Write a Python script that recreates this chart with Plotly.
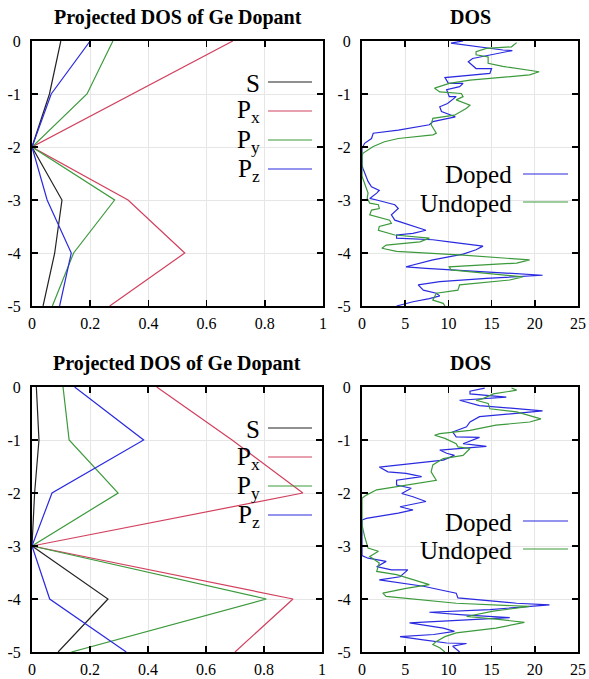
import plotly.graph_objects as go

# ---------------- data ----------------
energy_pdos = [0, -1, -2, -3, -4, -5]

# top panel (projected DOS)
top_S  = [0.099, 0.060, 0.0, 0.103, 0.078, 0.038]
top_Px = [0.690, 0.345, 0.0, 0.330, 0.525, 0.267]
top_Py = [0.278, 0.189, 0.0, 0.284, 0.143, 0.070]
top_Pz = [0.200, 0.066, 0.0, 0.052, 0.135, 0.095]

# bottom panel (projected DOS)
bot_S  = [0.015, 0.024, 0.009, 0.0, 0.262, 0.090]
bot_Px = [0.430, 0.690, 0.934, 0.0, 0.900, 0.700]
bot_Py = [0.107, 0.128, 0.297, 0.0, 0.808, 0.136]
bot_Pz = [0.147, 0.385, 0.069, 0.0, 0.061, 0.325]

# top DOS, doped
top_doped_x = [11.7, 10.3, 16.3, 17.4, 12.8, 12.3, 13.2, 15.0, 14.8, 9.6, 10.0, 11.7, 11.3, 9.8, 10.1,
               10.9, 9.9, 9.0, 9.2, 10.5, 10.8, 8.2, 7.8, 4.2, 1.3, 1.1, 0.3, 0.0, 0.0, 0.1, 0.7, 1.1,
               2.0, 1.7, 0.9, 1.7, 3.8, 4.2, 3.4, 3.8, 7.4, 5.9, 4.0, 4.0, 8.2, 10.1, 14.0, 13.2, 11.7,
               8.2, 5.1, 7.4, 13.6, 20.9, 14.4, 9.0, 6.5, 7.1, 8.6, 9.0, 7.8, 5.9, 4.0]
top_doped_e = [0.0, -0.04, -0.17, -0.18, -0.33, -0.39, -0.52, -0.52, -0.61, -0.69, -0.80, -0.80, -0.86,
               -0.92, -1.05, -1.05, -1.18, -1.24, -1.33, -1.40, -1.43, -1.52, -1.58, -1.68, -1.74, -1.84,
               -1.93, -2.03, -2.35, -2.40, -2.65, -2.75, -2.82, -2.87, -2.97, -3.00, -3.09, -3.16, -3.28,
               -3.38, -3.57, -3.63, -3.66, -3.72, -3.75, -3.79, -3.87, -3.94, -4.02, -4.13, -4.26, -4.29,
               -4.35, -4.42, -4.48, -4.54, -4.60, -4.70, -4.76, -4.81, -4.86, -4.92, -5.0]

# top DOS, undoped
top_undoped_x = [17.9, 17.3, 14.4, 13.2, 13.2, 14.6, 14.6, 16.3, 20.5, 19.4, 12.5, 10.1, 8.4, 9.0, 11.5,
                 11.7, 10.9, 12.5, 12.1, 10.7, 8.2, 8.0, 8.6, 8.2, 4.2, 2.6, 1.3, 0.1, 0.0, 0.0, 0.7,
                 0.6, 0.9, 1.9, 2.0, 1.1, 0.9, 3.2, 3.4, 2.0, 1.9, 3.8, 7.8, 6.7, 2.8, 2.3, 4.0, 11.7,
                 19.4, 17.9, 10.1, 10.3, 18.6, 17.1, 11.3, 11.1, 8.6, 8.2, 9.4, 9.6]
top_undoped_e = [-0.03, -0.11, -0.14, -0.20, -0.26, -0.30, -0.42, -0.48, -0.58, -0.64, -0.74, -0.80,
                 -0.89, -0.96, -0.99, -1.05, -1.11, -1.21, -1.27, -1.40, -1.46, -1.58, -1.74, -1.77,
                 -1.84, -1.90, -1.99, -2.12, -2.18, -2.55, -2.87, -2.97, -3.06, -3.09, -3.16, -3.19,
                 -3.28, -3.38, -3.44, -3.50, -3.57, -3.66, -3.72, -3.79, -3.85, -3.91, -3.97, -4.04,
                 -4.13, -4.19, -4.26, -4.32, -4.45, -4.51, -4.60, -4.70, -4.76, -4.89, -4.95, -5.0]

# bottom DOS, doped
bot_doped_x = [14.2, 12.5, 12.5, 15.2, 16.7, 11.3, 12.8, 13.6, 20.9, 17.9, 13.6, 12.5, 12.1, 10.5, 10.9,
               13.6, 11.7, 14.4, 10.9, 9.0, 9.8, 10.7, 9.4, 5.9, 2.0, 3.0, 5.1, 6.9, 4.0, 4.0, 5.7, 4.6,
               5.9, 7.4, 6.1, 4.4, 5.9, 4.2, 0.5, 0.0, 0.0, 0.7, 2.8, 1.7, 3.4, 5.3, 4.4, 2.0, 7.1, 10.9,
               11.1, 17.9, 21.7, 14.8, 7.8, 11.7, 17.1, 12.5, 5.5, 9.4, 10.7, 8.3, 4.4, 7.1, 9.8, 12.1,
               10.5, 11.3]
bot_doped_e = [-0.02, -0.08, -0.13, -0.16, -0.19, -0.25, -0.31, -0.35, -0.45, -0.50, -0.56, -0.66, -0.75,
               -0.85, -0.94, -0.95, -1.07, -1.12, -1.16, -1.19, -1.25, -1.29, -1.38, -1.44, -1.51, -1.60,
               -1.63, -1.69, -1.76, -1.85, -1.91, -2.01, -2.07, -2.16, -2.20, -2.26, -2.32, -2.38, -2.48,
               -2.51, -3.18, -3.23, -3.29, -3.39, -3.45, -3.45, -3.58, -3.64, -3.76, -3.89, -3.98, -4.08,
               -4.11, -4.20, -4.25, -4.30, -4.35, -4.39, -4.45, -4.55, -4.61, -4.67, -4.71, -4.77, -4.83,
               -4.84, -4.89, -5.0]

# bottom DOS, undoped
bot_undoped_x = [17.3, 17.9, 15.2, 14.0, 13.2, 14.6, 14.8, 17.9, 20.7, 19.4, 15.5, 12.5, 9.0, 8.4, 9.6,
                 10.9, 11.1, 12.5, 11.7, 9.4, 8.2, 8.0, 8.6, 6.3, 3.6, 1.7, 0.5, 0.0, 0.0, 0.3, 0.7, 1.9,
                 0.9, 2.0, 1.7, 4.0, 7.8, 5.1, 2.4, 2.8, 10.9, 19.4, 15.2, 12.1, 15.5, 18.8, 15.5, 10.9,
                 9.6, 8.6, 8.2, 9.0, 9.6]
bot_undoped_e = [-0.02, -0.06, -0.13, -0.22, -0.25, -0.31, -0.41, -0.47, -0.60, -0.66, -0.72, -0.82,
                 -0.88, -0.91, -0.97, -1.07, -1.13, -1.16, -1.29, -1.35, -1.47, -1.60, -1.76, -1.82,
                 -1.88, -1.94, -2.04, -2.10, -2.60, -2.82, -3.04, -3.10, -3.20, -3.32, -3.48, -3.54,
                 -3.73, -3.80, -3.89, -3.95, -4.08, -4.14, -4.23, -4.33, -4.38, -4.44, -4.55, -4.64,
                 -4.71, -4.80, -4.86, -4.92, -5.0]

pdos_names = ["S", "P<sub>x</sub>", "P<sub>y</sub>", "P<sub>z</sub>"]
dos_names = ["Doped", "Undoped"]
panel_titles = ["Projected DOS of Ge Dopant", "DOS", "Projected DOS of Ge Dopant", "DOS"]

pdos_xticks = [0, 0.2, 0.4, 0.6, 0.8, 1]
pdos_xtext = ["0", "0.2", "0.4", "0.6", "0.8", "1"]
dos_xticks = [0, 5, 10, 15, 20, 25]
dos_xtext = ["0", "5", "10", "15", "20", "25"]
yticks = [0, -1, -2, -3, -4, -5]
ytext = ["0", "-1", "-2", "-3", "-4", "-5"]

# ---------------- styling ----------------
W, H = 589, 679
pdos_colors = ["#222222", "#d2405e", "#3c9a3c", "#2a2ae0"]
dos_colors = ["#2a2ae0", "#3c9a3c"]
FONT = "Liberation Serif, Times New Roman, serif"

# panel pixel boxes: (left, right, top, bottom)
boxes = {
    1: (32, 323, 41, 306),
    2: (362, 578, 41, 306),
    3: (32, 322, 387, 652),
    4: (362, 578, 387, 652),
}

def px(x):
    return x / W

def py(y):
    return 1 - y / H

fig = go.Figure()

def add_line(i, x, y, color):
    xa = "x" if i == 1 else f"x{i}"
    ya = "y" if i == 1 else f"y{i}"
    fig.add_trace(go.Scatter(x=x, y=y, mode="lines", xaxis=xa, yaxis=ya,
                             line=dict(color=color, width=1.2), showlegend=False,
                             hoverinfo="skip"))

for series, c in zip([top_S, top_Px, top_Py, top_Pz], pdos_colors):
    add_line(1, series, energy_pdos, c)
add_line(2, top_doped_x, top_doped_e, dos_colors[0])
add_line(2, top_undoped_x, top_undoped_e, dos_colors[1])
for series, c in zip([bot_S, bot_Px, bot_Py, bot_Pz], pdos_colors):
    add_line(3, series, energy_pdos, c)
add_line(4, bot_doped_x, bot_doped_e, dos_colors[0])
add_line(4, bot_undoped_x, bot_undoped_e, dos_colors[1])

axis_common = dict(showline=True, linecolor="black", linewidth=2, mirror="ticks",
                   ticks="inside", ticklen=6, tickwidth=1.5, tickcolor="black",
                   showgrid=True, gridcolor="#e6e6e6", gridwidth=1, zeroline=False,
                   automargin=False,
                   tickfont=dict(family=FONT, size=16, color="black"))

layout = dict(width=W, height=H, margin=dict(l=0, r=0, t=0, b=0, autoexpand=False),
              paper_bgcolor="white", plot_bgcolor="white", showlegend=False)

for i, (l, r, t, b) in boxes.items():
    xk = "xaxis" if i == 1 else f"xaxis{i}"
    yk = "yaxis" if i == 1 else f"yaxis{i}"
    ya = "y" if i == 1 else f"y{i}"
    xa = "x" if i == 1 else f"x{i}"
    is_pdos = i in (1, 3)
    layout[xk] = dict(axis_common, domain=[px(l), px(r)], anchor=ya,
                      range=[0, 1] if is_pdos else [0, 25],
                      tickvals=pdos_xticks if is_pdos else dos_xticks,
                      ticktext=pdos_xtext if is_pdos else dos_xtext,
                      ticklabelstandoff=2)
    layout[yk] = dict(axis_common, domain=[py(b), py(t)], anchor=xa,
                      range=[-5, 0], tickvals=yticks, ticktext=ytext,
                      ticklabelstandoff=6)

fig.update_layout(**layout)

annotations = []
shapes = []
for i, (l, r, t, b) in boxes.items():
    annotations.append(dict(text=f"<b>{panel_titles[i-1]}</b>", x=px((l + r) / 2), y=py(t - 24),
                            xref="paper", yref="paper", showarrow=False,
                            xanchor="center", yanchor="middle",
                            font=dict(family=FONT, size=20, color="black")))

def add_legend(names, colors, ys, text_right, line_l, line_r, size):
    for name, c, yy in zip(names, colors, ys):
        annotations.append(dict(text=name, x=px(text_right), y=py(yy + 1), xref="paper", yref="paper",
                                showarrow=False, xanchor="right", yanchor="middle",
                                font=dict(family=FONT, size=size, color="black")))
        shapes.append(dict(type="line", xref="paper", yref="paper",
                           x0=px(line_l), x1=px(line_r), y0=py(yy), y1=py(yy),
                           line=dict(color=c, width=1.2)))

add_legend(pdos_names, pdos_colors, [82, 111, 140, 169], 262, 268, 312, 25)
add_legend(dos_names, dos_colors, [174, 202], 514, 523, 568, 25)
add_legend(pdos_names, pdos_colors, [428, 457, 486, 515], 262, 268, 312, 25)
add_legend(dos_names, dos_colors, [521, 549], 514, 523, 568, 25)

fig.update_layout(annotations=annotations, shapes=shapes)
fig.write_html("out.html",
               config={"displayModeBar": False, "staticPlot": True},
               post_script="document.body.style.margin='0';document.body.style.padding='0';"
                           "document.documentElement.style.overflow='hidden';")
